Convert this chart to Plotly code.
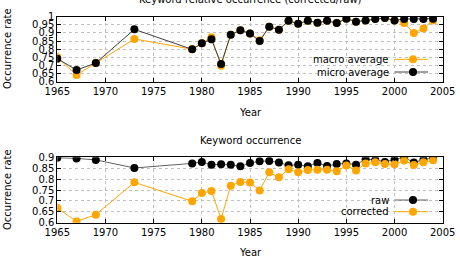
import plotly.graph_objects as go

years = [1965, 1967, 1969, 1973, 1979, 1980, 1981, 1982, 1983, 1984, 1985, 1986,
         1987, 1988, 1989, 1990, 1991, 1992, 1993, 1994, 1995, 1996, 1997, 1998,
         1999, 2000, 2001, 2002, 2003, 2004]

macro_avg = [0.750, 0.641, 0.715, 0.863, 0.800, 0.836, 0.873, 0.698, 0.889, 0.916,
             0.897, 0.855, 0.938, 0.920, 0.975, 0.957, 0.975, 0.963, 0.975, 0.961,
             0.988, 0.969, 0.977, 0.988, 0.992, 0.977, 0.961, 0.899, 0.928, 0.977]
micro_avg = [0.742, 0.672, 0.715, 0.922, 0.799, 0.836, 0.861, 0.709, 0.889, 0.916,
             0.897, 0.850, 0.938, 0.920, 0.975, 0.957, 0.975, 0.963, 0.975, 0.961,
             0.988, 0.969, 0.977, 0.986, 0.992, 0.977, 0.986, 0.986, 0.986, 0.988]

raw = [0.898, 0.895, 0.888, 0.851, 0.872, 0.879, 0.866, 0.868, 0.866, 0.859,
       0.874, 0.882, 0.883, 0.876, 0.863, 0.866, 0.859, 0.874, 0.860, 0.869,
       0.872, 0.866, 0.891, 0.888, 0.879, 0.889, 0.900, 0.876, 0.889, 0.898]
corrected = [0.667, 0.606, 0.637, 0.785, 0.698, 0.736, 0.745, 0.617, 0.770, 0.787,
             0.784, 0.748, 0.831, 0.808, 0.845, 0.831, 0.842, 0.843, 0.843, 0.836,
             0.862, 0.840, 0.872, 0.877, 0.869, 0.868, 0.885, 0.865, 0.877, 0.886]

top_title = "Keyword relative occurrence (corrected/raw)"
bottom_title = "Keyword occurrence"
x_title = "Year"
y_title = "Occurrence rate"
top_legend = ["macro average", "micro average"]
bottom_legend = ["raw", "corrected"]

ORANGE = "#ffa500"
BLACK = "#000000"
FONT = "DejaVu Sans"
W, H = 460, 259

def py(p):
    return 1 - p / H

def px(p):
    return p / W

fig = go.Figure()
fig.add_trace(go.Scatter(x=years, y=macro_avg, mode="lines+markers", xaxis="x", yaxis="y",
                         line=dict(color=ORANGE, width=1), marker=dict(color=ORANGE, size=8),
                         showlegend=False))
fig.add_trace(go.Scatter(x=years, y=micro_avg, mode="lines+markers", xaxis="x", yaxis="y",
                         line=dict(color="#404040", width=1), marker=dict(color=BLACK, size=8),
                         showlegend=False))
fig.add_trace(go.Scatter(x=years, y=raw, mode="lines+markers", xaxis="x2", yaxis="y2",
                         line=dict(color="#606060", width=1), marker=dict(color=BLACK, size=8),
                         showlegend=False))
fig.add_trace(go.Scatter(x=years, y=corrected, mode="lines+markers", xaxis="x2", yaxis="y2",
                         line=dict(color=ORANGE, width=1), marker=dict(color=ORANGE, size=8),
                         showlegend=False))

xdom = [px(57.3), px(442.7)]
axis_common = dict(showline=True, linecolor="black", linewidth=1, mirror="ticks",
                   ticks="inside", ticklen=4, tickcolor="black", automargin=False,
                   showgrid=True, gridcolor="#c0c0c0", griddash="dot", gridwidth=1,
                   zeroline=False, tickfont=dict(family=FONT, size=10, color="black"))

fig.update_layout(
    template="none",
    width=W, height=H,
    margin=dict(l=0, r=0, t=0, b=0, pad=0),
    paper_bgcolor="white", plot_bgcolor="white",
    showlegend=False,
    xaxis=dict(domain=xdom, range=[1965, 2005], dtick=5, tick0=1965, anchor="y", **axis_common),
    yaxis=dict(domain=[py(81.7), py(16.7)], range=[0.6, 1.0], dtick=0.05, tick0=0.6,
               anchor="x", **axis_common),
    xaxis2=dict(domain=xdom, range=[1965, 2005], dtick=5, tick0=1965, anchor="y2", **axis_common),
    yaxis2=dict(domain=[py(222.7), py(157.3)], range=[0.6, 0.9], dtick=0.05, tick0=0.6,
                anchor="x2", **axis_common),
)

ann_font = dict(family=FONT, size=10, color="black")
anns = [
    dict(text=top_title, x=px(250), y=py(-1), xanchor="center", yanchor="middle"),
    dict(text=bottom_title, x=px(250), y=py(140), xanchor="center", yanchor="middle"),
    dict(text=x_title, x=px(250), y=py(112), xanchor="center", yanchor="middle"),
    dict(text=x_title, x=px(250), y=py(252.5), xanchor="center", yanchor="middle"),
    dict(text=y_title, x=px(7), y=py(49), xanchor="center", yanchor="middle", textangle=-90),
    dict(text=y_title, x=px(7), y=py(190), xanchor="center", yanchor="middle", textangle=-90),
]
legend_rows = [
    (top_legend[0], 59.3, ORANGE, ORANGE),
    (top_legend[1], 72.0, "#404040", BLACK),
    (bottom_legend[0], 200.0, "#606060", BLACK),
    (bottom_legend[1], 211.7, ORANGE, ORANGE),
]
shapes = []
for label, yy, lc, mc in legend_rows:
    anns.append(dict(text=label, x=px(391), y=py(yy), xanchor="right", yanchor="middle"))
    shapes.append(dict(type="line", xref="paper", yref="paper", x0=px(395), x1=px(428),
                       y0=py(yy), y1=py(yy), line=dict(color=lc, width=1)))
    shapes.append(dict(type="circle", xref="paper", yref="paper", xsizemode="pixel",
                       ysizemode="pixel", xanchor=px(413), yanchor=py(yy),
                       x0=-4, x1=4, y0=-4, y1=4, fillcolor=mc, line=dict(color=mc, width=0)))
for a in anns:
    a.update(xref="paper", yref="paper", showarrow=False, font=ann_font)
fig.update_layout(annotations=anns, shapes=shapes)

fig.write_html("out.html")
